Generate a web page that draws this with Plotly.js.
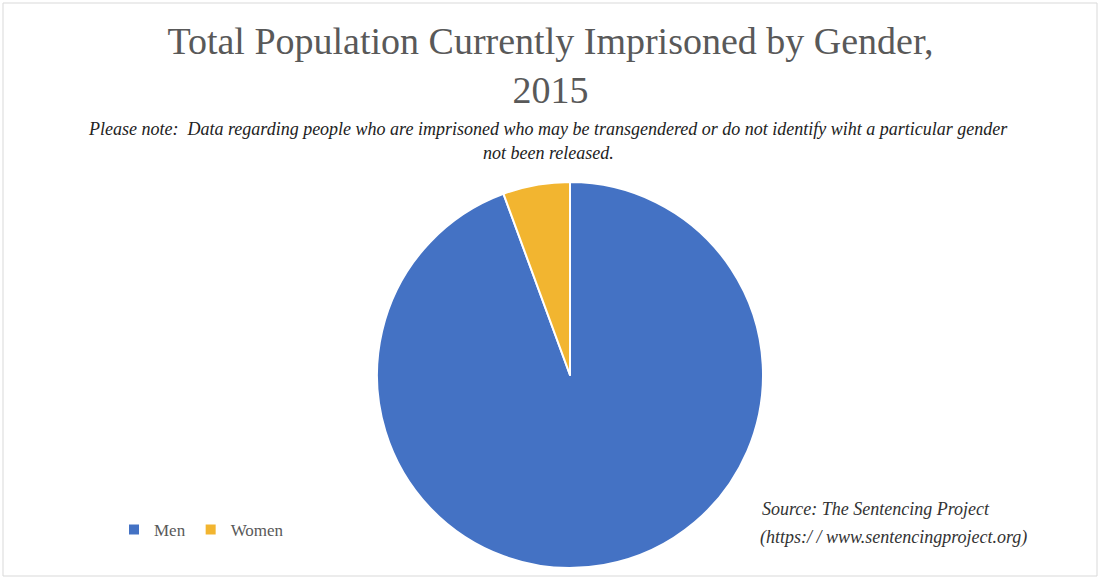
<!DOCTYPE html>
<html>
<head>
<meta charset="utf-8">
<script src="https://cdn.plot.ly/plotly-3.0.1.min.js"></script>
<style>
html,body{margin:0;padding:0;background:#fff;}
#chart{width:1101px;height:579px;}
</style>
</head>
<body>
<div id="chart"></div>
<script>
const categories = ["Men", "Women"];
const shares = [94.4, 5.6];
const sliceColors = ["#4472C4", "#F2B530"];

const W = 1101, H = 579;
const px = x => x / W;
const py = y => 1 - y / H;

const trace = {
  type: "pie",
  labels: categories,
  values: shares,
  sort: false,
  direction: "clockwise",
  rotation: 0,
  textinfo: "none",
  hoverinfo: "label+percent",
  marker: { colors: sliceColors, line: { color: "#ffffff", width: 2 } },
  domain: { x: [px(377), px(763)], y: [py(568), py(182)] }
};

const layout = {
  width: W, height: H,
  margin: { l: 0, r: 0, t: 0, b: 0 },
  paper_bgcolor: "#ffffff",
  showlegend: true,
  title: {
    text: "Total Population Currently Imprisoned by Gender,<br>2015",
    font: { family: "Liberation Serif, serif", size: 38, color: "#595959" },
    x: 0.5, xanchor: "center",
    y: py(54), yanchor: "middle"
  },
  legend: {
    orientation: "h",
    x: px(114), xanchor: "left",
    y: py(530), yanchor: "middle",
    font: { family: "Liberation Serif, serif", size: 17, color: "#595959" },
    bgcolor: "rgba(0,0,0,0)"
  },
  annotations: [
    { text: "Please note:  Data regarding people who are imprisoned who may be transgendered or do not identify wiht a particular gender",
      x: px(548), y: py(129), xref: "paper", yref: "paper", xanchor: "center", yanchor: "middle", showarrow: false,
      font: { family: "Liberation Serif, serif", size: 18, color: "#222222", style: "italic" } },
    { text: "not been released.",
      x: px(548), y: py(153), xref: "paper", yref: "paper", xanchor: "center", yanchor: "middle", showarrow: false,
      font: { family: "Liberation Serif, serif", size: 18, color: "#222222", style: "italic" } },
    { text: "Source: The Sentencing Project",
      x: px(760), y: py(509), xref: "paper", yref: "paper", xanchor: "left", yanchor: "middle", showarrow: false,
      font: { family: "Liberation Serif, serif", size: 18, color: "#333333", style: "italic" } },
    { text: "(https:/ / www.sentencingproject.org)",
      x: px(758), y: py(537), xref: "paper", yref: "paper", xanchor: "left", yanchor: "middle", showarrow: false,
      font: { family: "Liberation Serif, serif", size: 18, color: "#333333", style: "italic" } }
  ],
  shapes: [
    { type: "rect", xref: "paper", yref: "paper", x0: px(3), x1: px(1097), y0: py(576), y1: py(3),
      line: { color: "#d9d9d9", width: 1 }, fillcolor: "rgba(0,0,0,0)" }
  ]
};

Plotly.newPlot("chart", [trace], layout, { displayModeBar: false, staticPlot: true });
</script>
</body>
</html>
